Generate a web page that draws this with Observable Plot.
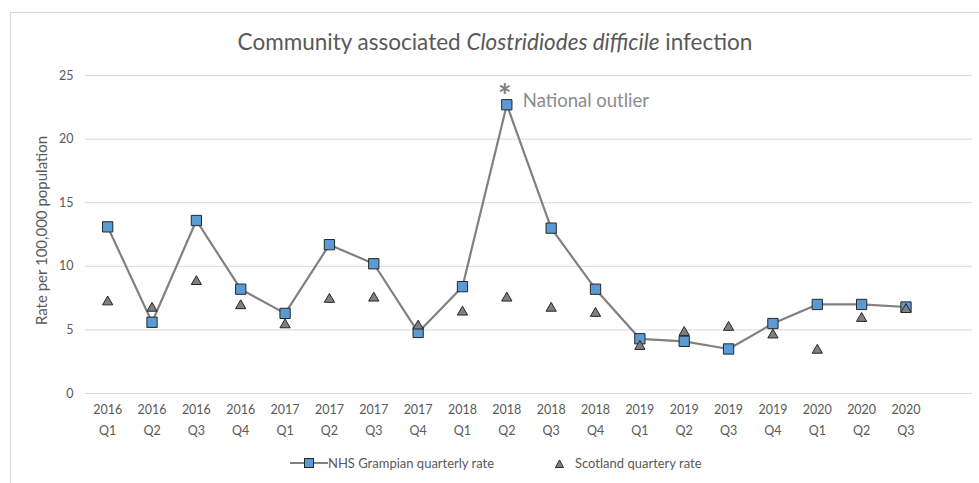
<!DOCTYPE html>
<html>
<head>
<meta charset="utf-8">
<script src="https://cdn.jsdelivr.net/npm/d3@7"></script>
<script src="https://cdn.jsdelivr.net/npm/@observablehq/plot@0.6"></script>
<style>
  body { margin: 0; background: #fff; font-family: Lato, "Liberation Sans", sans-serif; }
  #wrap { position: relative; width: 979px; height: 483px; overflow: hidden; }
  #frame { position: absolute; left: 10px; top: 12px; width: 990px; height: 500px; border: 1px solid #d9d9d9; box-sizing: border-box; }
  #title { position: absolute; left: 0; width: 990px; top: 28px; text-align: center; font-size: 22.5px; color: #595959; }
  #chart { position: absolute; left: 0; top: 0; }
  #legend { position: absolute; top: 455px; left: 0; width: 979px; font-size: 13px; color: #595959; }
  .li { position: absolute; top: 0; display: flex; align-items: center; white-space: nowrap; }
</style>
</head>
<body>
<div id="wrap">
  <div id="frame"></div>
  <div id="title">Community associated <i>Clostridiodes difficile</i> infection</div>
  <div id="chart"></div>
  <div id="legend">
    <div class="li" style="left:290px"><svg width="38" height="16"><line x1="0" y1="8" x2="38" y2="8" stroke="#808080" stroke-width="2"/><rect x="14.5" y="3.5" width="9" height="9" fill="#5b9bd5" stroke="#262626" stroke-width="1"/></svg><span>NHS Grampian quarterly rate</span></div>
    <div class="li" style="left:550px"><svg width="22" height="16"><path d="M5.5,12.5 L9.5,5 L13.5,12.5 Z" fill="#808080" stroke="#262626" stroke-width="1"/></svg><span style="margin-left:3px">Scotland quartery rate</span></div>
  </div>
</div>
<script>
const years = ["2016","2016","2016","2016","2017","2017","2017","2017","2018","2018","2018","2018","2019","2019","2019","2019","2020","2020","2020"];
const quarters = ["Q1","Q2","Q3","Q4","Q1","Q2","Q3","Q4","Q1","Q2","Q3","Q4","Q1","Q2","Q3","Q4","Q1","Q2","Q3"];
const grampian = [13.1, 5.6, 13.6, 8.2, 6.3, 11.7, 10.2, 4.8, 8.4, 22.7, 13.0, 8.2, 4.3, 4.1, 3.5, 5.5, 7.0, 7.0, 6.8];
const scotland = [7.2, 6.7, 8.8, 6.9, 5.4, 7.4, 7.5, 5.3, 6.4, 7.5, 6.7, 6.3, 3.7, 4.8, 5.2, 4.6, 3.4, 5.9, 6.6];
const yTicks = [0, 5, 10, 15, 20, 25];
const outlierIndex = 9;
const outlierLabel = "National outlier";

const idx = years.map((_, i) => i);
const gData = idx.map(i => ({i, v: grampian[i]}));
const sData = idx.map(i => ({i, v: scotland[i]}));
const outlier = [{i: outlierIndex, v: grampian[outlierIndex]}];

const chart = Plot.plot({
  width: 979,
  height: 450,
  marginTop: 75,
  marginBottom: 57,
  marginLeft: 85,
  marginRight: 7,
  style: {fontFamily: "Lato, 'Liberation Sans', sans-serif", color: "#595959", background: "transparent"},
  x: {type: "linear", domain: [-0.5, years.length + 0.5], axis: null},
  y: {domain: [0, 25], axis: null},
  marks: [
    Plot.gridY(yTicks, {stroke: "#d9d9d9", strokeOpacity: 1, strokeWidth: 1}),
    Plot.axisY({ticks: yTicks, tickSize: 0, tickPadding: 12, fontSize: 12.5, fill: "#595959", label: null}),
    Plot.text(["Rate per 100,000 population"], {frameAnchor: "left", textAnchor: "middle", rotate: -90, dx: -43, dy: -4, fontSize: 15, fill: "#595959"}),
    Plot.axisX({ticks: idx, tickFormat: i => years[i], tickSize: 0, tickPadding: 12, fontSize: 12.5, fill: "#595959", label: null}),
    Plot.axisX({ticks: idx, tickFormat: i => quarters[i], tickSize: 0, tickPadding: 33, fontSize: 12.5, fill: "#595959", label: null}),
    Plot.line(gData, {x: "i", y: "v", stroke: "#808080", strokeWidth: 2.2}),
    Plot.dot(gData, {x: "i", y: "v", symbol: "square", r: 5.8, fill: "#5b9bd5", stroke: "#262626", strokeWidth: 1}),
    Plot.dot(sData, {x: "i", y: "v", symbol: "triangle", r: 3.8, fill: "#808080", stroke: "#262626", strokeWidth: 1}),
    Plot.text(outlier, {x: "i", y: "v", text: () => "*", dx: -2, dy: -7, fontSize: 32, fontWeight: "bold", fill: "#7f7f7f"}),
    Plot.text(outlier, {x: "i", y: "v", text: () => outlierLabel, dx: 16, dy: -4, textAnchor: "start", fontSize: 18.5, fill: "#8c8c8c"})
  ]
});
document.getElementById("chart").appendChild(chart);
</script>
</body>
</html>
